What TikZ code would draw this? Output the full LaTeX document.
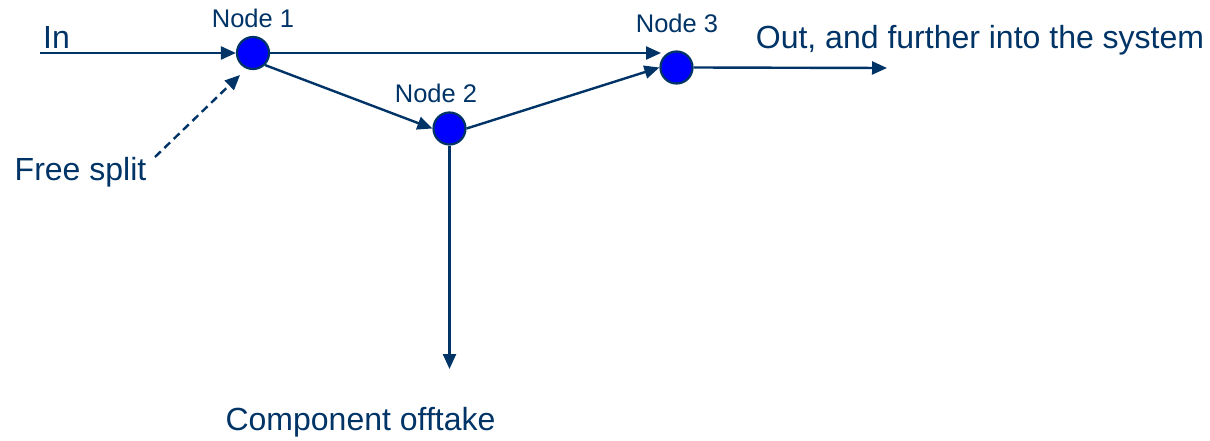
\documentclass[tikz,border=0pt]{standalone}
\usepackage{fontspec}
\setmainfont{Liberation Sans}
\usetikzlibrary{arrows.meta}
\definecolor{navy}{RGB}{0,51,102}
\definecolor{nodeblue}{RGB}{0,0,255}
\tikzset{
  flow/.style={draw=navy, line width=2.4pt, -{Triangle[length=15pt,width=13pt]}},
  freeflow/.style={flow, dash pattern=on 8pt off 5pt},
  junction/.style={circle, draw=navy, line width=2.2pt, fill=nodeblue, minimum size=32pt, inner sep=0pt},
  biglabel/.style={text=navy, font=\fontsize{32}{36}\selectfont, inner sep=0pt, anchor=base},
  smalllabel/.style={text=navy, font=\fontsize{25.5}{30}\selectfont, inner sep=0pt, anchor=base}
}
\begin{document}
\begin{tikzpicture}[x=1pt, y=-1pt]
  \useasboundingbox (0,0) rectangle (1210,441);

  % junction points
  \node[junction] (n1) at (253,53) {};
  \node[junction] (n2) at (449.5,128.5) {};
  \node[junction] (n3) at (676.5,67.5) {};

  % labels
  \node[smalllabel] (l1) at (253,28) {Node 1};
  \node[smalllabel] (l2) at (436,103) {Node 2};
  \node[smalllabel] (l3) at (677,33) {Node 3};
  \node[biglabel] (lin) at (56.5,49) {In};
  \node[biglabel] (lout) at (980,49) {Out, and further into the system};
  \node[biglabel] (lfree) at (80.5,180) {Free split};
  \node[biglabel] (loff) at (360.5,430) {Component offtake};

  % free ends of the connectors
  \coordinate (src) at (40,53);
  \coordinate (top3) at (661,53);
  \coordinate (sink) at (887,68);
  \coordinate (offtake) at (449.5,369);
  \coordinate (fs) at (155,157);
  \coordinate (fstip) at (240,75);

  % connectors
  \draw[flow] (src) -- (n1);
  \draw[flow] (n1) -- (top3);
  \draw[flow] (n1.south east) -- (n2.west);
  \draw[flow] (n2.east) -- (n3.west);
  \draw[flow] (n3.east) -- (sink);
  \draw[flow] (n2.south) -- (offtake);
  \draw[freeflow] (fs) -- (fstip);
\end{tikzpicture}
\end{document}
